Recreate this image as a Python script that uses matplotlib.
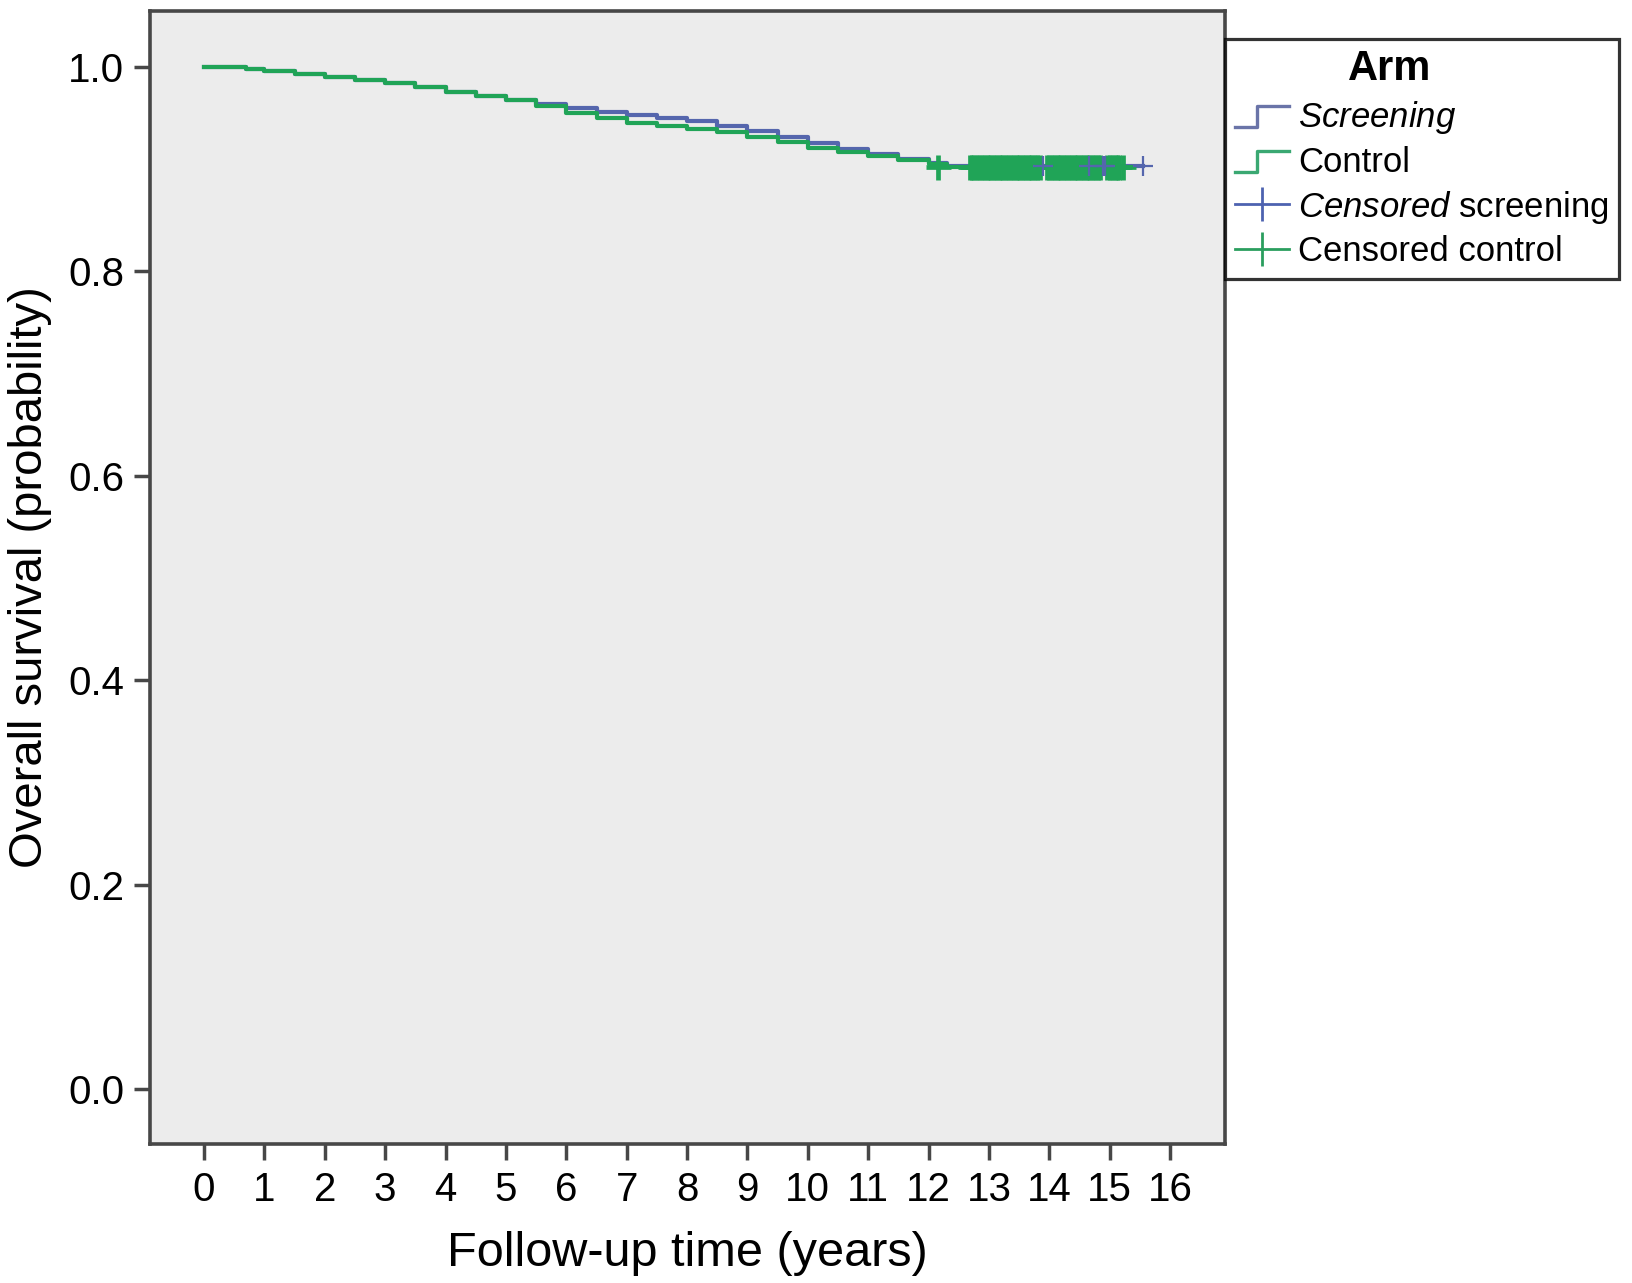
import matplotlib
matplotlib.use('Agg')
import matplotlib.pyplot as plt
from matplotlib.lines import Line2D
from matplotlib.legend_handler import HandlerBase

plt.rcParams['font.family'] = ['Liberation Sans', 'DejaVu Sans']
plt.rcParams['mathtext.fontset'] = 'custom'
plt.rcParams['mathtext.rm'] = 'Liberation Sans'
plt.rcParams['mathtext.it'] = 'Liberation Sans:italic'

# survival curves (years, probability)
screen_t = [0, 0.7, 1.0, 1.5, 2.0, 2.5, 3.0, 3.5, 4.0, 4.5, 5.0, 5.5, 6.0, 6.5,
            7.0, 7.5, 8.0, 8.5, 9.0, 9.5, 10.0, 10.5, 11.0, 11.5, 12.0, 12.3, 15.55]
screen_s = [1.0, 0.998, 0.996, 0.993, 0.990, 0.987, 0.984, 0.980, 0.976, 0.972,
            0.968, 0.964, 0.960, 0.956, 0.953, 0.950, 0.947, 0.942, 0.937, 0.932,
            0.926, 0.920, 0.915, 0.910, 0.906, 0.903, 0.903]
control_t = [0, 0.7, 1.0, 1.5, 2.0, 2.5, 3.0, 3.5, 4.0, 4.5, 5.0, 5.5, 6.0, 6.5,
             7.0, 7.5, 8.0, 8.5, 9.0, 9.5, 10.0, 10.5, 11.0, 11.5, 12.0, 12.3, 15.22]
control_s = [1.0, 0.998, 0.996, 0.993, 0.990, 0.987, 0.984, 0.980, 0.976, 0.972,
             0.968, 0.962, 0.955, 0.950, 0.945, 0.942, 0.939, 0.936, 0.932, 0.927,
             0.921, 0.917, 0.913, 0.909, 0.905, 0.902, 0.902]

# censoring times
cens_control = [12.16,
                12.68, 12.72, 12.76, 12.80, 12.84, 12.88, 12.92, 12.96, 13.00, 13.04,
                13.08, 13.12, 13.16, 13.20, 13.24, 13.28, 13.32, 13.36, 13.40, 13.44,
                13.48, 13.52, 13.56, 13.60, 13.64, 13.68, 13.72, 13.76, 13.80, 13.84,
                13.96, 14.00, 14.04, 14.08, 14.12, 14.16, 14.20, 14.24, 14.28, 14.32,
                14.36, 14.40, 14.44, 14.48, 14.52, 14.56, 14.60, 14.64, 14.68, 14.72,
                14.76, 14.80, 14.84,
                14.96, 15.00, 15.04, 15.08, 15.12, 15.16, 15.22]
cens_screen = [13.90, 14.66, 14.88, 14.92, 15.55]

x_ticks = list(range(0, 17))
y_ticks = [0.0, 0.2, 0.4, 0.6, 0.8, 1.0]

blue = '#5566ad'
green = '#20a457'
spine_col = '#474747'


class StepHandler(HandlerBase):
    def create_artists(self, legend, orig_handle, xdescent, ydescent,
                       width, height, fontsize, trans):
        x0 = -xdescent
        xm = x0 + width * 0.4
        y0 = -ydescent + height * 0.0
        y1 = -ydescent + height * 0.85
        ln = Line2D([x0, xm, xm, x0 + width], [y0, y0, y1, y1],
                    color=orig_handle.get_color(), lw=2.4, transform=trans)
        return [ln]


fig = plt.figure(figsize=(16.33, 12.83), dpi=100)
ax = fig.add_axes([0.0919, 0.1083, 0.6583, 0.8831])
ax.set_facecolor('#ececec')

ax.step(screen_t, screen_s, where='post', color=blue, lw=3.0)
ax.step(control_t, control_s, where='post', color=green, lw=3.0)

ax.plot(cens_control, [control_s[-1]] * len(cens_control), ls='none', marker='+',
        markersize=18, mew=3.4, color=green)
ax.plot(cens_screen, [screen_s[-1]] * len(cens_screen), ls='none', marker='+',
        markersize=15, mew=1.6, color=blue)

ax.set_xlim(-0.894, 16.91)
ax.set_ylim(-0.0538, 1.0548)
ax.set_xticks(x_ticks)
ax.set_xticklabels([str(v) for v in x_ticks])
ax.set_yticks(y_ticks)
ax.set_yticklabels(['%.1f' % v for v in y_ticks])

for s in ax.spines.values():
    s.set_color(spine_col)
    s.set_linewidth(2.6)
ax.tick_params(axis='both', direction='out', length=11.5, width=2.5, color=spine_col)
ax.tick_params(axis='x', labelsize=29, pad=8)
ax.tick_params(axis='y', labelsize=29, pad=7)

ax.set_xlabel('Follow-up time (years)', fontsize=35, labelpad=16)
ax.set_ylabel('Overall survival (probability)', fontsize=34, labelpad=12)

h_screen = Line2D([], [], color='#6a74a8')
h_control = Line2D([], [], color='#3aa872')
h_cs = Line2D([], [], color='#4d62b0', lw=2, marker='|', markersize=24, mew=2)
h_cc = Line2D([], [], color='#2a9e5e', lw=2, marker='|', markersize=24, mew=2)

leg = fig.legend([h_screen, h_control, h_cs, h_cc],
                 [r'$\it{Screening}$', 'Control', r'$\it{Censored}$ screening',
                  'Censored control'],
                 handler_map={h_screen: StepHandler(), h_control: StepHandler()},
                 loc='upper left', bbox_to_anchor=(0.7502, 0.9696),
                 bbox_transform=fig.transFigure, borderaxespad=0,
                 fontsize=25, title='Arm', title_fontproperties={'size': 30, 'weight': 'bold'},
                 fancybox=False, frameon=True, numpoints=1,
                 handlelength=1.55, handletextpad=0.25, labelspacing=0.28,
                 borderpad=0.3)
leg.get_frame().set_edgecolor('black')
leg.get_frame().set_linewidth(2.3)
# title sits a little left of centre in the original
leg.get_title().set_transform(leg.get_title().get_transform() +
                              matplotlib.transforms.Affine2D().translate(-32, 0))

fig.savefig('out.png', dpi=100)
